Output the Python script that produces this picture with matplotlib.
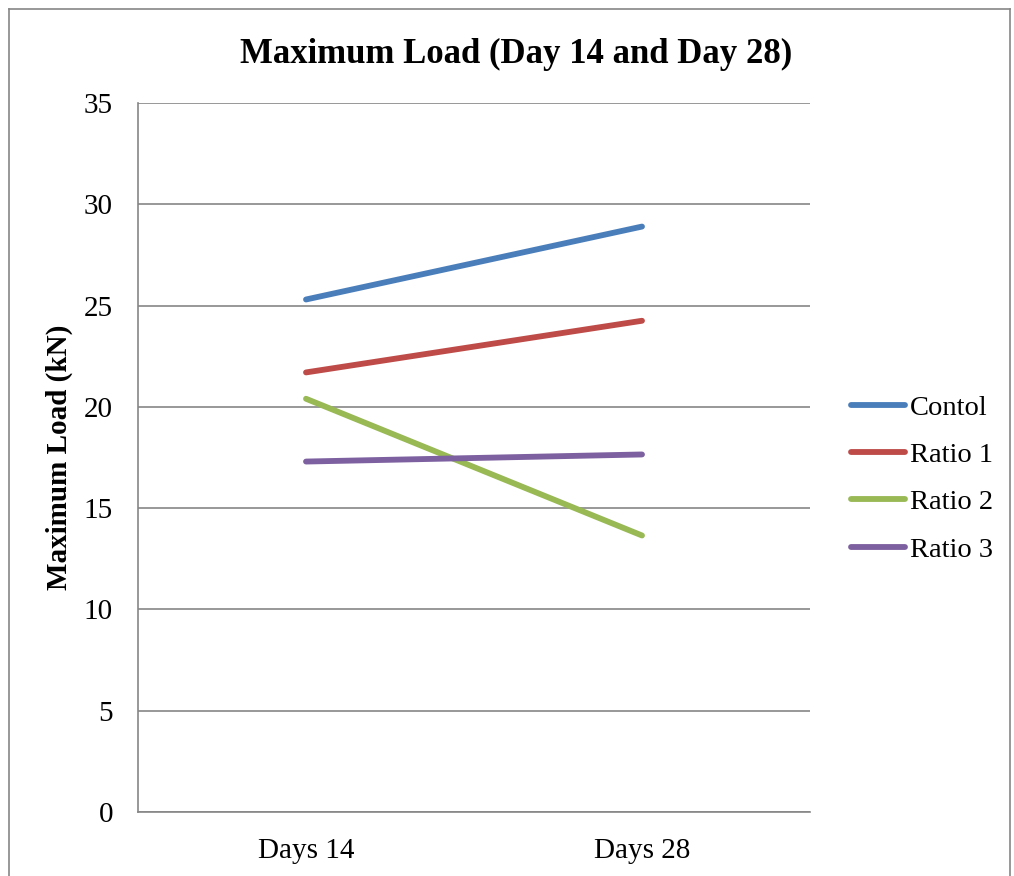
import matplotlib
matplotlib.use('Agg')
import matplotlib.pyplot as plt
from matplotlib.lines import Line2D

# data
categories = ['Days 14', 'Days 28']
series_names = ['Contol', 'Ratio 1', 'Ratio 2', 'Ratio 3']
control = [25.3, 28.9]
ratio1 = [21.7, 24.25]
ratio2 = [20.4, 13.65]
ratio3 = [17.3, 17.65]
yticks = [0, 5, 10, 15, 20, 25, 30, 35]

colors = ['#4A7EBB', '#BE4B48', '#98B954', '#7D60A0']
GRID = '#868686'

plt.rcParams['font.family'] = ['Liberation Serif', 'DejaVu Serif']

fig = plt.figure(figsize=(10.14, 8.76), dpi=100)
ax = fig.add_axes([138/1014, 1 - 812/876, 672/1014, 709/876])

x = list(range(len(categories)))
for name, vals, c in zip(series_names, [control, ratio1, ratio2, ratio3], colors):
    ax.plot(x, vals, color=c, lw=4.2, solid_capstyle='round', label=name, zorder=3)

ax.set_xlim(-0.5, 1.5)
ax.set_ylim(0, 35)
ax.set_yticks(yticks)
ax.set_xticks(x)
ax.set_xticklabels(categories)
ax.tick_params(length=0, labelsize=21)
ax.tick_params(axis='y', pad=18)
ax.tick_params(axis='x', pad=19)
ax.yaxis.grid(True, color=GRID, lw=1.2)
ax.set_axisbelow(True)
for s in ['top', 'right']:
    ax.spines[s].set_visible(False)
for s in ['left', 'bottom']:
    ax.spines[s].set_color(GRID)
    ax.spines[s].set_linewidth(1.2)

ax.set_ylabel('Maximum Load (kN)', fontsize=21, fontweight='bold')
ax.yaxis.set_label_coords(-0.096, 0.5)
fig.text(516/1014, 1 - 54/876, 'Maximum Load (Day 14 and Day 28)',
         fontsize=25, fontweight='bold', ha='center', va='center')

leg = ax.legend(loc='center left', bbox_to_anchor=(1.0, 0.47), frameon=False,
                fontsize=20.5, handlelength=1.9, handletextpad=0.15,
                labelspacing=0.75, borderaxespad=1.05)

# outer chart frame (bottom edge falls off the image)
for xs, ys in [([9/1014, 9/1014], [0, 1 - 9/876]),
               ([9/1014, 1010/1014], [1 - 9/876, 1 - 9/876]),
               ([1010/1014, 1010/1014], [0, 1 - 9/876])]:
    fig.add_artist(Line2D(xs, ys, color=GRID, lw=1.2))

fig.savefig('out.png', dpi=100)
